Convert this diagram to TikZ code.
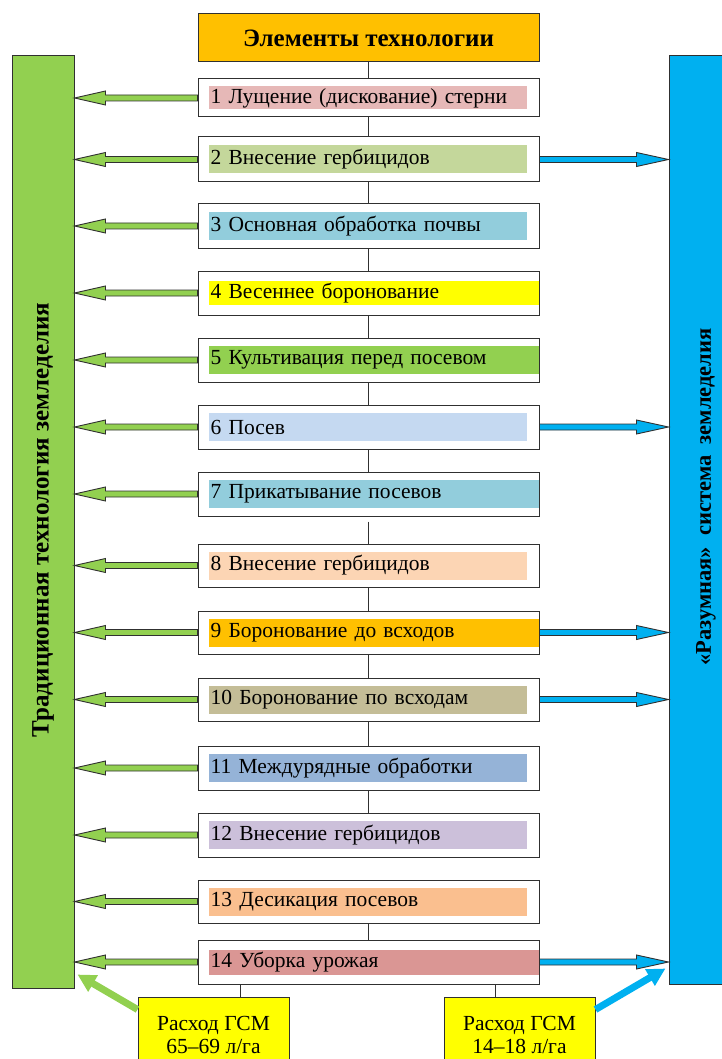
\documentclass[tikz,border=0pt]{standalone}
\usepackage{fontspec}
\setmainfont{Liberation Serif}
\usetikzlibrary{calc,arrows.meta}
\definecolor{lgreen}{HTML}{92D050}
\definecolor{sky}{HTML}{00B0F0}
\definecolor{hdr}{HTML}{FFC000}
\definecolor{ylw}{HTML}{FFFF00}
\definecolor{ca}{HTML}{E6B8B7}
\definecolor{cb}{HTML}{C4D79B}
\definecolor{cc}{HTML}{92CDDC}
\definecolor{cd}{HTML}{FFFF00}
\definecolor{ce}{HTML}{92D050}
\definecolor{cf}{HTML}{C5D9F1}
\definecolor{cg}{HTML}{92CDDC}
\definecolor{ch}{HTML}{FCD5B4}
\definecolor{ci}{HTML}{FFC000}
\definecolor{cj}{HTML}{C4BD97}
\definecolor{ck}{HTML}{95B3D7}
\definecolor{cl}{HTML}{CCC0DA}
\definecolor{cm}{HTML}{FABF8F}
\definecolor{cn}{HTML}{DA9694}
\definecolor{edge}{HTML}{303030}
\newcommand\itemfont{\fontsize{21.5}{24}\selectfont}
\newcommand\blockarr[4]{%
  \draw[blockline, fill=#1] ([yshift=3pt]#2) -- ([xshift=#4,yshift=3pt]#3)
    -- ([xshift=#4,yshift=7pt]#3) -- (#3) -- ([xshift=#4,yshift=-7pt]#3)
    -- ([xshift=#4,yshift=-3pt]#3) -- ([yshift=-3pt]#2) -- cycle;}
\tikzset{
  bar/.style={draw=edge, line width=1pt, inner sep=0pt},
  itembox/.style={draw=edge, line width=1pt, fill=white, minimum width=341pt,
    minimum height=44pt, inner sep=0pt},
  hlshort/.style={anchor=west, fill=#1, minimum width=318pt, text width=314pt,
    minimum height=28pt, inner xsep=2pt, inner ysep=0pt, align=left, font=\itemfont},
  hllong/.style={anchor=west, fill=#1, minimum width=330pt, text width=326pt,
    minimum height=28pt, inner xsep=2pt, inner ysep=0pt, align=left, font=\itemfont},
  conn/.style={draw=edge, line width=1pt},
  blockline/.style={draw=edge, line width=0.9pt, line join=miter},
  ybox/.style={draw=edge, line width=1pt, fill=ylw, minimum width=151pt,
    minimum height=73pt, inner sep=0pt},
  ylabel/.style={align=center, font=\fontsize{21.5}{23}\selectfont},
  vlabel/.style={rotate=90, font=\bfseries\fontsize{25}{30}\selectfont},
  thick arrow/.style={line width=7pt, -{Triangle[length=18pt,width=18pt]}}
}
\begin{document}
\begin{tikzpicture}[x=1pt,y=-1pt]
\useasboundingbox (0,0) rectangle (721,1059);
% side bars
\node[bar, fill=lgreen, minimum width=62pt, minimum height=932pt] (L) at (43,522) {};
\node[bar, fill=sky, minimum width=71pt, minimum height=928pt] (R) at (704.5,520) {};
\node[vlabel] (Lt) at (43,520) {Традиционная технология земледелия};
\node[vlabel, font=\bfseries\fontsize{22.5}{27}\selectfont] (Rt) at (706,497) {«Разумная»\ \ система\ \ земледелия};
% header
\node[draw=edge, line width=1pt, fill=hdr, minimum width=341pt, minimum height=48pt,
  inner sep=0pt, font=\bfseries\fontsize{25}{30}\selectfont] (h) at (368.5,38) {Элементы технологии};
% item boxes
\node[itembox, minimum height=38pt] (b1) at (368.5,98) {};
\node[itembox, minimum height=45pt] (b2) at (368.5,159.5) {};
\node[itembox] (b3) at (368.5,226) {};
\node[itembox] (b4) at (368.5,293) {};
\node[itembox] (b5) at (368.5,360) {};
\node[itembox] (b6) at (368.5,427) {};
\node[itembox] (b7) at (368.5,494) {};
\node[itembox, minimum height=43pt] (b8) at (368.5,565.5) {};
\node[itembox, minimum height=43pt] (b9) at (368.5,632.5) {};
\node[itembox, minimum height=43pt] (b10) at (368.5,699.5) {};
\node[itembox] (b11) at (368.5,768) {};
\node[itembox] (b12) at (368.5,835) {};
\node[itembox, minimum height=43pt] (b13) at (368.5,901.5) {};
\node[itembox] (b14) at (368.5,962) {};
% connectors between boxes
\draw[conn] (h.south) -- (b1.north);
\foreach \a/\b in {1/2,2/3,3/4,4/5,5/6,6/7,8/9,9/10,10/11,11/12,13/14}
  \draw[conn] (b\a.south) -- (b\b.north);
\draw[conn] ([yshift=-5pt]b7.south) -- (b8.north);
% highlighted texts
\node[hlshort=ca, minimum height=23pt] (f1) at ([xshift=11pt]b1.west) {1 Лущение (дискование) стерни};
\node[hlshort=cb] (f2) at ([xshift=11pt]b2.west) {2 Внесение гербицидов};
\node[hlshort=cc] (f3) at ([xshift=11pt]b3.west) {3 Основная обработка почвы};
\node[hllong=cd, minimum height=24pt] (f4) at ([xshift=11pt]b4.west) {4 Весеннее боронование};
\node[hllong=ce] (f5) at ([xshift=11pt]b5.west) {5 Культивация перед посевом};
\node[hlshort=cf] (f6) at ([xshift=11pt]b6.west) {6 Посев};
\node[hllong=cg] (f7) at ([xshift=11pt]b7.west) {7 Прикатывание посевов};
\node[hlshort=ch] (f8) at ([xshift=11pt]b8.west) {8 Внесение гербицидов};
\node[hllong=ci] (f9) at ([xshift=11pt]b9.west) {9 Боронование до всходов};
\node[hlshort=cj] (f10) at ([xshift=11pt]b10.west) {10 Боронование по всходам};
\node[hlshort=ck] (f11) at ([xshift=11pt]b11.west) {11 Междурядные обработки};
\node[hlshort=cl] (f12) at ([xshift=11pt]b12.west) {12 Внесение гербицидов};
\node[hlshort=cm] (f13) at ([xshift=11pt]b13.west) {13 Десикация посевов};
\node[hllong=cn, minimum height=25pt] (f14) at ([xshift=11pt]b14.west) {14 Уборка урожая};
% block arrows to the bars
\foreach \i in {1,...,14}{
  \coordinate (tl\i) at (L.east |- b\i.west);
  \blockarr{lgreen}{b\i.west}{tl\i}{31pt}
}
\foreach \i in {2,6,9,10,14}{
  \coordinate (tr\i) at (R.west |- b\i.east);
  \blockarr{sky}{b\i.east}{tr\i}{-32pt}
}
% fuel boxes
\node[ybox] (gl) at (213.5,1033.5) {};
\node[ybox] (gr) at (519.5,1033.5) {};
\node[ylabel] (glt) at ([yshift=-38pt]gl.north) {Расход ГСМ\\65–69 л/га};
\node[ylabel] (grt) at ([yshift=-38pt]gr.north) {Расход ГСМ\\14–18 л/га};
\draw[conn] ([xshift=26.5pt]gl.north |- b14.south) -- ([xshift=26.5pt]gl.north);
\draw[conn] ([xshift=-24.5pt]gr.north |- b14.south) -- ([xshift=-24.5pt]gr.north);
\draw[thick arrow, lgreen] ([yshift=-13pt]gl.north west) -- ([xshift=3pt,yshift=14pt]L.south east);
\draw[thick arrow, sky] ([yshift=-13pt]gr.north east) -- ([xshift=-3pt,yshift=16pt]R.south west);
\end{tikzpicture}
\end{document}
